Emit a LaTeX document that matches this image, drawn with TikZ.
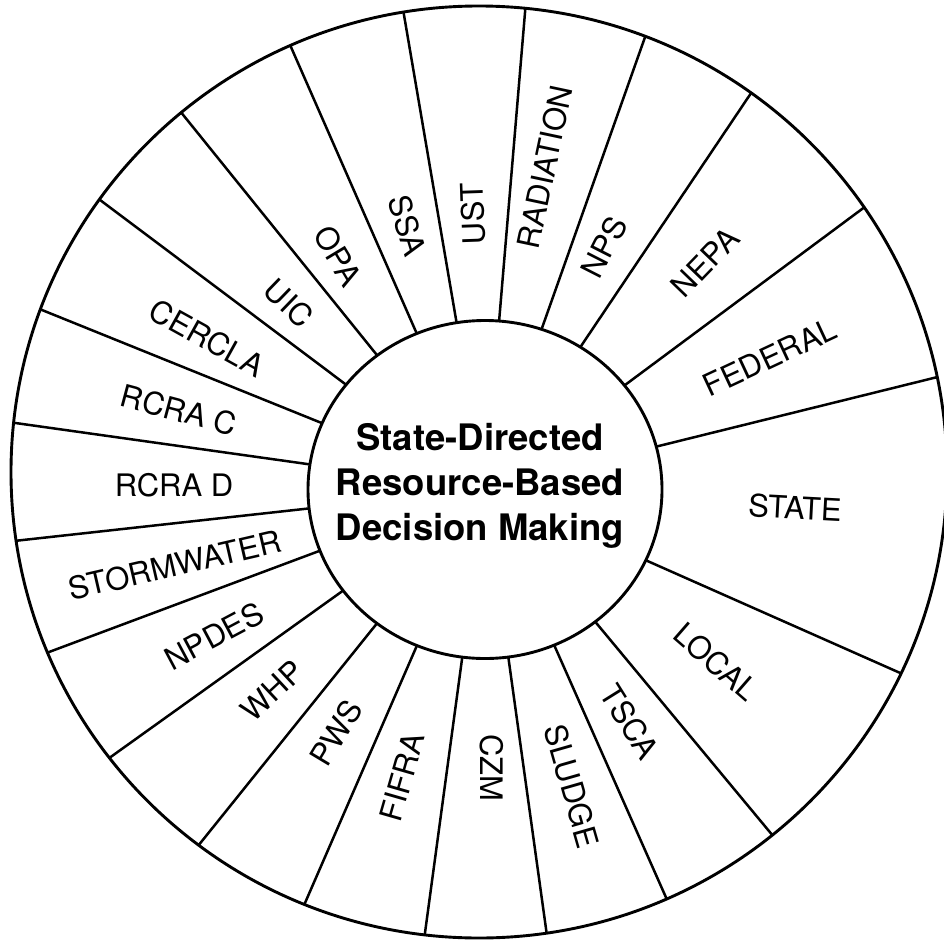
\documentclass[tikz,border=0pt]{standalone}
\usepackage{fontspec}
\setmainfont{TeX Gyre Heros}
\begin{document}
\begin{tikzpicture}[x=1pt,y=-1pt,
  spoke/.style={line width=2.5pt},
  ring/.style={line width=2.9pt},
  lab/.style={inner sep=0pt,font=\fontsize{31}{37}\selectfont},
  hub/.style={inner sep=0pt,align=center,font=\fontsize{36.5}{45}\selectfont\bfseries}]
\useasboundingbox (0,0) rectangle (944,939);
\coordinate (C) at (485,489);
\coordinate (O) at (479,472);
\begin{scope}
  \clip (O) ellipse [x radius=468pt, y radius=466pt];
  \foreach \a in {99.7,85.2,70.5,56.1,36.6,13.9,-23.9,-50.3,-66.1,-82.1,-97.7,-113.5,-128.8,-144.4,-159.5,-173.7,172.0,158.0,143.1,128.9,113.7}
    \draw[spoke] (C) -- ++(\a:700pt);
\end{scope}
\draw[ring,fill=white] (485,489.5) ellipse [x radius=177pt, y radius=169pt];
\draw[ring] (O) ellipse [x radius=468pt, y radius=466pt];
\node[hub] (hub) at (480,486) {State-Directed\\Resource-Based\\Decision Making};
\node[lab,rotate=92] (ust) at (473,214) {UST};
\node[lab,rotate=78] (rad) at (545,167) {RADIATION};
\node[lab,rotate=63] (nps) at (604,247) {NPS};
\node[lab,rotate=46] (nepa) at (705,262) {NEPA};
\node[lab,rotate=25] (fed) at (770,357) {FEDERAL};
\node[lab,rotate=-3] (state) at (795,508) {STATE};
\node[lab,rotate=-41] (local) at (716,662) {LOCAL};
\node[lab,rotate=-58] (tsca) at (630,722) {TSCA};
\node[lab,rotate=-74] (sludge) at (572,786) {SLUDGE};
\node[lab,rotate=-90] (czm) at (492,768) {CZM};
\node[lab,rotate=74] (fifra) at (402,777) {FIFRA};
\node[lab,rotate=59] (pws) at (336,733) {PWS};
\node[lab,rotate=43] (whp) at (272,691) {WHP};
\node[lab,rotate=28] (npdes) at (214,636) {NPDES};
\node[lab,rotate=13] (storm) at (175,565) {STORMWATER};
\node[lab,rotate=0] (rcrad) at (174,485) {RCRA D};
\node[lab,rotate=-15] (rcrac) at (179,410) {RCRA C};
\node[lab,rotate=-29] (cercla) at (207,338) {CERCLA};
\node[lab,rotate=-44] (uic) at (289,303) {UIC};
\node[lab,rotate=-59] (opa) at (338,256) {OPA};
\node[lab,rotate=-73] (ssa) at (407,226) {SSA};
\end{tikzpicture}
\end{document}
